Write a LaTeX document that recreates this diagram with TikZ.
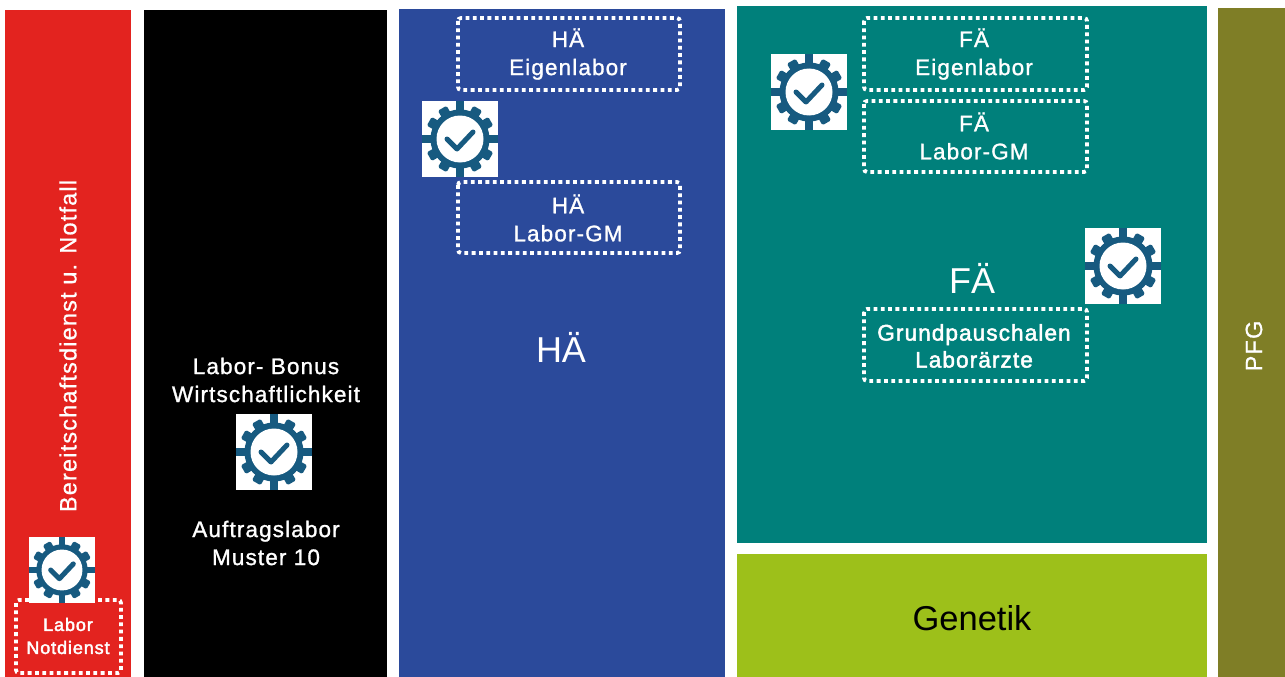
\documentclass[tikz,border=0pt]{standalone}
\usepackage{fontspec}
\setmainfont{Liberation Sans}
\newfontfamily\medf[LetterSpace=5,FakeBold=1.2]{Liberation Sans}
\newfontfamily\rotf[LetterSpace=5,FakeBold=0.8]{Liberation Sans}
\newfontfamily\boldf[LetterSpace=5,FakeBold=2.2]{Liberation Sans}
\definecolor{cred}{HTML}{E3231F}
\definecolor{cblue}{HTML}{2B4A9B}
\definecolor{cteal}{HTML}{00807B}
\definecolor{cgreen}{HTML}{9DC01A}
\definecolor{colive}{HTML}{7F7E26}
\definecolor{cgear}{HTML}{175A80}
\newcommand{\fsz}[2]{\fontsize{#1}{#2}\selectfont}
\tikzset{
  dotbox/.style={draw=white,line width=3.8pt,dash pattern=on 3.8pt off 3.5pt,rounded corners=3pt},
  lbl/.style={text=white,align=center,font=\medf\fsz{22.5}{28},inner sep=0pt},
  boxb/.style={text=white,align=center,font=\boldf\fsz{22.5}{27},inner sep=0pt},
  rotl/.style={text=white,align=center,font=\rotf\fsz{23.5}{28},inner sep=0pt,rotate=90},
  big/.style={text=white,font=\fsz{36}{40},inner sep=0pt},
  gearicon/.pic={
    \fill[white] (-38,-38) rectangle (38,38);
    \foreach \a in {30,60,120,150,210,240,300,330}{
      \fill[cgear,rotate=\a,rounded corners=1.5pt] (-5,0) rectangle (5,35.5);
    }
    \foreach \a in {0,90,180,270}{
      \fill[cgear,rotate=\a] (-4,0) rectangle (4,38);
    }
    \fill[cgear] (0,0) circle (29.5);
    \fill[white] (0,0) circle (23.5);
    \draw[cgear,line width=5pt,line cap=round,line join=round] (-13,0) -- (-3,10) -- (13,-7);
  }
}
\begin{document}
\begin{tikzpicture}[x=1pt,y=-1pt]
\useasboundingbox (0,0) rectangle (1285,677);
\fill[white] (0,0) rectangle (1285,677);
% panels
\fill[cred] (5,10) rectangle (131,677);
\fill[black] (144,10) rectangle (387,677);
\fill[cblue] (399,9) rectangle (725,677);
\fill[cteal] (737,6) rectangle (1207,543);
\fill[cgreen] (737,554) rectangle (1207,677);
\fill[colive] (1218,8) rectangle (1285,677);
% dotted boxes
\draw[dotbox] (458,18) rectangle (680,90);
\draw[dotbox] (458,182) rectangle (680,253);
\draw[dotbox] (864,18) rectangle (1087,90);
\draw[dotbox] (864,101) rectangle (1087,172);
\draw[dotbox] (864,309) rectangle (1087,381);
\draw[dotbox] (16,600) rectangle (121,673);
% gears
\pic[scale=0.87] at (62,570) {gearicon};
\pic at (274,452) {gearicon};
\pic at (460,139) {gearicon};
\pic at (809,92) {gearicon};
\pic at (1123,266) {gearicon};
% text
\node[rotl] (bereit) at (68,346) {Bereitschaftsdienst u. Notfall};
\node[rotl] (pfg) at (1254,346) {PFG};
\node[boxb,font=\boldf\fsz{18}{23}] (lab) at (68,636) {Labor\\Notdienst};
\node[lbl] (bonus) at (266,380) {Labor- Bonus\\Wirtschaftlichkeit};
\node[lbl] (auftrag) at (266,543) {Auftragslabor\\Muster 10};
\node[lbl] (he) at (568,54) {HÄ\\Eigenlabor};
\node[lbl] (hg) at (568,218) {HÄ\\Labor-GM};
\node[big] (ha) at (561,347) {HÄ};
\node[lbl] (fe) at (974,54) {FÄ\\Eigenlabor};
\node[lbl] (fg) at (974,136) {FÄ\\Labor-GM};
\node[big] (fa) at (972,278) {FÄ};
\node[boxb] (gp) at (974,346) {Grundpauschalen\\Laborärzte};
\node[inner sep=0pt,font=\fsz{34.5}{38}] (gen) at (972,618) {Genetik};
\end{tikzpicture}
\end{document}
